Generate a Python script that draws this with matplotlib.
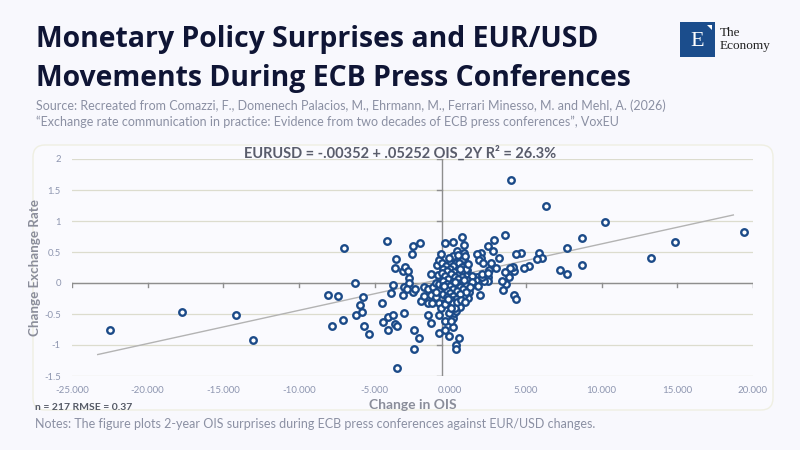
import matplotlib
matplotlib.use("Agg")
import matplotlib.pyplot as plt
from matplotlib.patches import FancyBboxPatch, Rectangle, Polygon
from matplotlib.transforms import IdentityTransform

# data: 2Y OIS surprise (bp) vs EUR/USD change (%)
ois_far = [-22.46, -17.76, -14.17, -13.02, -7.02, -8.07, -7.41, -7.83, -7.11, -6.29,
           -5.99, -5.79, -6.25, -5.83, -5.70, -5.39, -4.51, -4.47, -4.18, -4.14,
           -4.11, -3.91, -3.78, -3.78, -3.65, -3.61, -3.63, -3.52, -3.54, -3.15,
           -2.99, -3.15, -3.06, -3.04, -2.82, -2.75, -2.75, -2.88, -2.53, -2.49,
           -2.00, -2.49, -2.33, -2.42, -2.42, -2.07, -1.91, -1.76, -1.76, -1.50,
           -1.47, -1.45, -1.30, -1.30, -1.30, -1.19, -1.12, -0.94, -0.98, -0.98,
           -0.90, -0.81, -0.77, -0.77, -0.77, -0.77, -0.73, -0.59, -0.62, -0.38,
           -0.38, -0.50, -0.33]
fx_far = [-0.76, -0.46, -0.52, -0.92, 0.56, -0.20, -0.21, -0.70, -0.60, 0.00,
          -0.35, -0.23, -0.52, -0.47, -0.70, -0.83, -0.33, -0.63, 0.67, -0.75,
          -0.55, -0.16, -0.04, -0.52, 0.25, 0.38, -0.66, -0.70, -1.37, 0.20,
          0.26, -0.20, -0.49, -0.06, 0.20, 0.08, 0.00, -0.10, 0.46, 0.59,
          0.65, -0.14, -0.10, -0.75, -1.07, -0.88, -0.29, -0.06, -0.21, -0.51,
          -0.10, -0.33, 0.15, -0.64, -0.19, -0.33, -0.06, -0.22, -0.14, 0.00,
          0.29, 0.13, -0.02, -0.33, -0.52, -0.81, 0.37, 0.46, -0.40, -0.62,
          -0.75, -0.17, 0.64]

ois_pos = [4.00, 6.29, 10.19, 19.39, 14.87, 13.29, 8.71, 8.67, 7.68, 7.22,
           7.74, 5.85, 6.03, 5.72, 5.19, 4.88, 4.67, 4.34, 4.18, 4.11,
           3.96, 3.89, 4.22, 4.34, 3.58, 3.63, 3.67, 3.45, 3.39, 3.19,
           2.86, 2.79, 2.99, 2.72, 2.56, 2.52, 2.46, 2.46, 2.20, 2.00,
           2.02, 1.73, 1.90, 2.16, 1.93, 1.73, 1.69, 1.41, 1.52, 1.25,
           1.14, 1.10, 0.97, 0.92, 0.88, 0.88, 0.75, 0.88, 0.92, 0.66,
           0.42, 0.59, 0.37, 0.37, 0.15, 0.17, 0.15, 0.15, 0.22, -0.11,
           -0.11, 0.06]
fx_pos = [1.66, 1.25, 0.99, 0.83, 0.66, 0.41, 0.72, 0.29, 0.56, 0.21,
          0.14, 0.49, 0.41, 0.38, 0.27, 0.24, 0.48, 0.46, 0.19, 0.26,
          0.25, 0.09, -0.19, -0.26, 0.78, 0.18, -0.02, -0.11, 0.03, 0.41,
          0.70, 0.52, 0.25, 0.32, 0.21, 0.10, 0.04, 0.60, 0.04, 0.49,
          0.41, 0.46, 0.37, 0.32, -0.19, 0.10, 0.05, 0.09, -0.02, -0.14,
          -0.24, 0.21, 0.25, 0.38, 0.48, 0.62, 0.75, -0.07, -0.19, 0.36,
          0.51, -0.88, -1.00, -1.07, 0.66, 0.43, -0.71, -0.56, -0.48, -0.48,
          -0.85, -0.61]

ois_core = [0.55, 0.81, 0.99, 0.01, 0.35, 0.59, -0.55, -0.28, 0.17, 0.77,
            -0.51, -0.03, 0.48, 1.03, -0.24, 0.22, 0.68, -0.57, 0.02, 0.53,
            1.06, -0.35, 0.33, 0.77, 1.43, 2.08, 2.10, 2.50, -0.13, 0.53,
            1.12, -0.51, 0.15, 0.77, 1.43, -0.24, 0.42, 1.06, -0.03, 0.62,
            1.30, -0.46, 0.15, 0.81, 1.85, -0.24, 0.42, 1.06, -0.03, 0.62,
            0.15, -0.24, 0.35, 0.02, -0.37, 0.15, -0.33, 0.62, 0.35, 0.30,
            0.28, 0.65, -0.10, 0.45, 0.90, -0.40, 0.70, 0.05, 1.20, 0.50,
            -0.15, 0.95]
fx_core = [0.38, 0.38, 0.44, 0.33, 0.32, 0.32, 0.32, 0.27, 0.27, 0.26,
           0.23, 0.22, 0.21, 0.22, 0.19, 0.18, 0.17, 0.16, 0.14, 0.13,
           0.12, 0.11, 0.10, 0.09, 0.12, 0.10, 0.14, 0.16, 0.06, 0.06,
           0.05, 0.04, 0.02, 0.01, 0.02, -0.01, -0.02, -0.03, -0.05, -0.06,
           -0.07, -0.05, -0.09, -0.10, -0.05, -0.12, -0.13, -0.14, -0.16, -0.18,
           -0.21, -0.23, -0.25, -0.28, -0.32, -0.33, -0.34, -0.38, -0.45, -0.40,
           0.02, 0.22, 0.40, -0.30, 0.05, -0.05, -0.28, -0.40, 0.30, 0.45,
           -0.26, -0.30]

ois = ois_far + ois_pos + ois_core
fx = fx_far + fx_pos + fx_core

# fitted line as drawn in the chart
trend_range = [-23.3, 18.7]
trend_intercept = 0.095
trend_slope = 0.0536

x_ticks = [-25, -20, -15, -10, -5, 0, 5, 10, 15, 20]
y_ticks = [-1.5, -1, -0.5, 0, 0.5, 1, 1.5, 2]
y_tick_labels = ["-1.5", "-1", "-0.5", "0", "0.5", "1", "1.5", "2"]
axis_cross_x = -0.55

BG = "#f8f8fd"
NAVY = "#0f1535"
GREY_TXT = "#8b90a3"
DOT = "#1b4a88"

plt.rcParams["font.family"] = ["Lato", "DejaVu Sans"]

fig = plt.figure(figsize=(8, 4.5), dpi=100, facecolor=BG)

# chart card
card = FancyBboxPatch((33, 40), 740, 265, boxstyle="round,pad=0,rounding_size=12",
                      transform=IdentityTransform(), facecolor="#fafafe",
                      edgecolor="#efefe2", linewidth=1.0, zorder=0)
fig.add_artist(card)

fig.text(0.045, 1 - 46.7 / 450, "Monetary Policy Surprises and EUR/USD", fontsize=20.4,
         fontweight="bold", color=NAVY, va="baseline", family="Open Sans")
fig.text(0.045, 1 - 85.7 / 450, "Movements During ECB Press Conferences", fontsize=20.4,
         fontweight="bold", color=NAVY, va="baseline", family="Open Sans")
fig.text(0.045, 1 - 110 / 450, "Source: Recreated from Comazzi, F., Domenech Palacios, M., Ehrmann, M., "
         "Ferrari Minesso, M. and Mehl, A. (2026)", fontsize=9.0, color=GREY_TXT, va="baseline")
fig.text(0.045, 1 - 125.7 / 450, "\u201cExchange rate communication in practice: Evidence from two decades "
         "of ECB press conferences\u201d, VoxEU", fontsize=9.0, color=GREY_TXT, va="baseline")

# logo
fig.add_artist(Rectangle((680, 450 - 57), 35, 35, transform=IdentityTransform(),
                         facecolor="#1b4d8c", edgecolor="none"))
fig.add_artist(Polygon([(707, 450 - 25), (712, 450 - 25), (712, 450 - 30)],
                       transform=IdentityTransform(), facecolor="white", edgecolor="none"))
fig.text(697 / 800, 1 - 41 / 450, "E", fontsize=16, color="white", ha="center",
         va="center", family="Liberation Serif")
fig.text(720 / 800, 1 - 33 / 450, "The", fontsize=9.5, color="#222222", va="center",
         family="Liberation Serif")
fig.text(720 / 800, 1 - 46 / 450, "Economy", fontsize=9.5, color="#222222", va="center",
         family="Liberation Serif")

ax = fig.add_axes([72 / 800, 1 - 376 / 450, 681 / 800, 217 / 450])
ax.set_facecolor("none")
ax.set_xlim(-25, 20)
ax.set_ylim(-1.5, 2)

for y in y_ticks:
    ax.axhline(y, color="#dcdcce", linewidth=0.9, zorder=1)

# axis lines through the origin with their tick marks
ax.axhline(0, color="#8e8e8e", linewidth=1.0, zorder=2)
ax.axvline(axis_cross_x, color="#8e8e8e", linewidth=1.0, zorder=2)
for x in x_ticks:
    if x != 0:
        ax.plot([x, x], [0, -0.06], color="#8e8e8e", linewidth=1.0, zorder=2)
for y in y_ticks:
    ax.plot([axis_cross_x - 0.35, axis_cross_x], [y, y], color="#8e8e8e", linewidth=1.0, zorder=2)

ax.plot(trend_range, [trend_intercept + trend_slope * v for v in trend_range],
        color="#b3b3b3", linewidth=1.0, zorder=3)
ax.scatter(ois, fx, s=22, facecolors="white", edgecolors=DOT, linewidths=1.7, zorder=4)

for side in ax.spines.values():
    side.set_visible(False)
ax.set_xticks(x_ticks)
ax.set_xticklabels([f"{v:.3f}" for v in x_ticks])
ax.set_yticks(y_ticks)
ax.set_yticklabels(y_tick_labels)
ax.tick_params(axis="x", length=0, labelsize=7, labelcolor="#8e96b0", pad=7)
ax.tick_params(axis="y", length=0, labelsize=6.8, labelcolor="#8e96b0", pad=8)

ax.set_xlabel("Change in OIS", fontsize=10, fontweight="bold", color="#8a8d9a", labelpad=3)
ax.set_ylabel("Change Exchange Rate", fontsize=9.6, fontweight="bold", color="#8a8d9a")
ax.yaxis.set_label_coords(-0.045, 0.5)
fig.text(0.5, 1 - 153 / 450, "EURUSD = -.00352 + .05252 OIS_2Y R\u00b2 = 26.3%", fontsize=10.5,
         fontweight="bold", color="#595c6b", ha="center", va="center")

fig.text(35 / 800, 1 - 410 / 450, "n = 217 RMSE = 0.37", fontsize=7.5, fontweight="bold",
         color="#555a66", va="baseline")
fig.text(35 / 800, 1 - 428 / 450, "Notes: The figure plots 2-year OIS surprises during ECB press "
         "conferences against EUR/USD changes.", fontsize=9, color=GREY_TXT, va="baseline")

fig.savefig("out.png", dpi=100, facecolor=BG)
